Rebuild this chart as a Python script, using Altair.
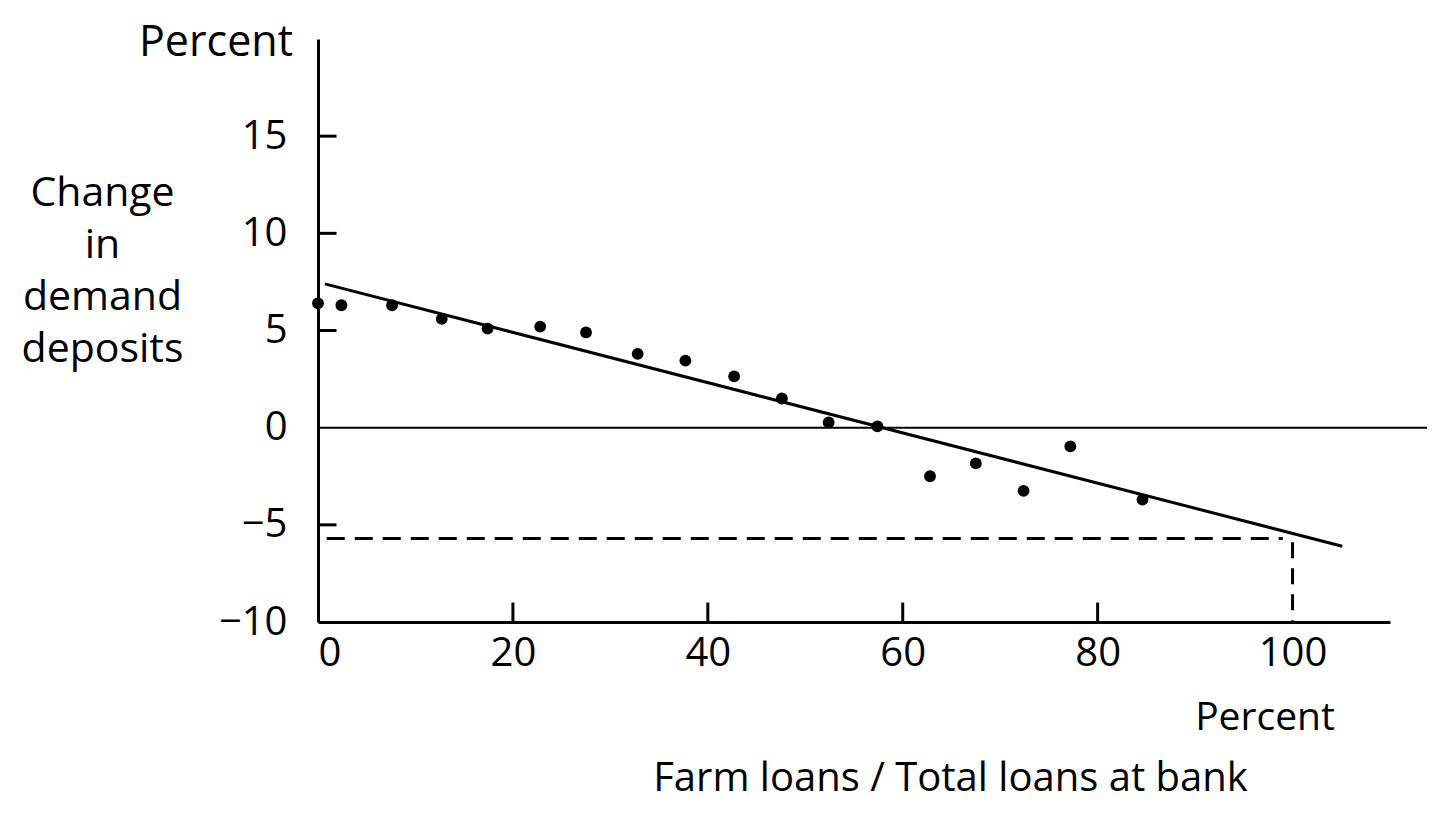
import altair as alt
import pandas as pd

# Scatter points: farm-loan share (%) vs change in demand deposits (%)
farm_share = [0, 2.4, 7.6, 12.7, 17.4, 22.8, 27.5, 32.8, 37.7, 42.7, 47.6, 52.4, 57.4,
              62.8, 67.5, 72.4, 77.2, 84.6]
deposit_change = [6.4, 6.3, 6.3, 5.6, 5.1, 5.2, 4.9, 3.8, 3.45, 2.64, 1.5, 0.27, 0.07,
                  -2.5, -1.84, -3.25, -0.96, -3.7]

# Fitted line end points
fit_x = [0.7, 105.1]
fit_y = [7.4, -6.1]

# Reference lines
zero_line_x = [0, 113.8]
dash_level = -5.7
dash_x = [0.9, 99.0]
dash_vert_x = 100
dash_vert_y = [-5.9, -10]

x_tick_values = [0, 20, 40, 60, 80, 100]
y_tick_values = [-10, -5, 0, 5, 10, 15]
x_inner_ticks = [20, 40, 60, 80]
y_inner_ticks = [15, 10, 5, -5]

FONT = "Open Sans"
W, H = 1072, 583

xs = alt.Scale(domain=[0, 110], nice=False, zero=False)
ys = alt.Scale(domain=[-10, 20], nice=False, zero=False)

pts = pd.DataFrame({"x": farm_share, "y": deposit_change})

points = alt.Chart(pts).mark_circle(size=140, color="black", opacity=1).encode(
    x=alt.X("x:Q", scale=xs, axis=alt.Axis(
        values=x_tick_values, ticks=False, grid=False,
        domainColor="black", domainWidth=3,
        labelFont=FONT, labelFontSize=40, labelColor="black", labelPadding=11,
        title="Farm loans / Total loans at bank",
        titleFont=FONT, titleFontSize=40, titleFontWeight="normal", titleColor="black",
        titleX=632, titleY=168, titleBaseline="alphabetic", titleAlign="center")),
    y=alt.Y("y:Q", scale=ys, axis=alt.Axis(
        values=y_tick_values, ticks=False, grid=False,
        domainColor="black", domainWidth=3,
        labelFont=FONT, labelFontSize=40, labelColor="black", labelPadding=31,
        labelExpr="datum.value < 0 ? '\u2212' + abs(datum.value) : datum.label",
        title=["Change", "in", "demand", "deposits"],
        titleFont=FONT, titleFontSize=41, titleFontWeight="normal", titleColor="black",
        titleAngle=0, titleAlign="center", titleBaseline="alphabetic",
        titleX=-216, titleY=166, titleLineHeight=52)),
)

fit = alt.Chart(pd.DataFrame({"x": fit_x, "y": fit_y})).mark_line(
    color="black", strokeWidth=3).encode(x=alt.X("x:Q", scale=xs), y=alt.Y("y:Q", scale=ys))

zero = alt.Chart(pd.DataFrame({"x": [zero_line_x[0]], "x2": [zero_line_x[1]], "y": [0]})).mark_rule(
    color="black", strokeWidth=2).encode(x=alt.X("x:Q", scale=xs), x2="x2:Q", y=alt.Y("y:Q", scale=ys))

dash_h = alt.Chart(pd.DataFrame({"x": [dash_x[0]], "x2": [dash_x[1]], "y": [dash_level]})).mark_rule(
    color="black", strokeWidth=3, strokeDash=[18, 10]).encode(
    x=alt.X("x:Q", scale=xs), x2="x2:Q", y=alt.Y("y:Q", scale=ys))

dash_v = alt.Chart(pd.DataFrame({"x": [dash_vert_x], "y": [dash_vert_y[0]], "y2": [dash_vert_y[1]]})).mark_rule(
    color="black", strokeWidth=3, strokeDash=[16, 10]).encode(
    x=alt.X("x:Q", scale=xs), y=alt.Y("y:Q", scale=ys), y2="y2:Q")

xt = alt.Chart(pd.DataFrame({"x": x_inner_ticks, "y": [-10] * 4, "y2": [-9.0] * 4})).mark_rule(
    color="black", strokeWidth=3).encode(x=alt.X("x:Q", scale=xs), y=alt.Y("y:Q", scale=ys), y2="y2:Q")

yt = alt.Chart(pd.DataFrame({"y": y_inner_ticks, "x": [0] * 4, "x2": [1.9] * 4})).mark_rule(
    color="black", strokeWidth=3).encode(x=alt.X("x:Q", scale=xs), x2="x2:Q", y=alt.Y("y:Q", scale=ys))

top_label = alt.Chart(pd.DataFrame({"t": ["Percent"]})).mark_text(
    font=FONT, fontSize=43, color="black", align="center", baseline="alphabetic").encode(
    text="t:N", x=alt.value(-102), y=alt.value(17))

right_label = alt.Chart(pd.DataFrame({"t": ["Percent"]})).mark_text(
    font=FONT, fontSize=39, color="black", align="center", baseline="alphabetic").encode(
    text="t:N", x=alt.value(947), y=alt.value(691))

chart = alt.layer(zero, dash_h, dash_v, xt, yt, fit, points, top_label, right_label).properties(
    width=W, height=H,
    autosize=alt.AutoSizeParams(type="none"),
    padding={"left": 310, "top": 31, "right": 37, "bottom": 183},
    background="white",
).configure_view(stroke=None)

chart.save("out.html", embed_options={"renderer": "svg", "actions": False})
